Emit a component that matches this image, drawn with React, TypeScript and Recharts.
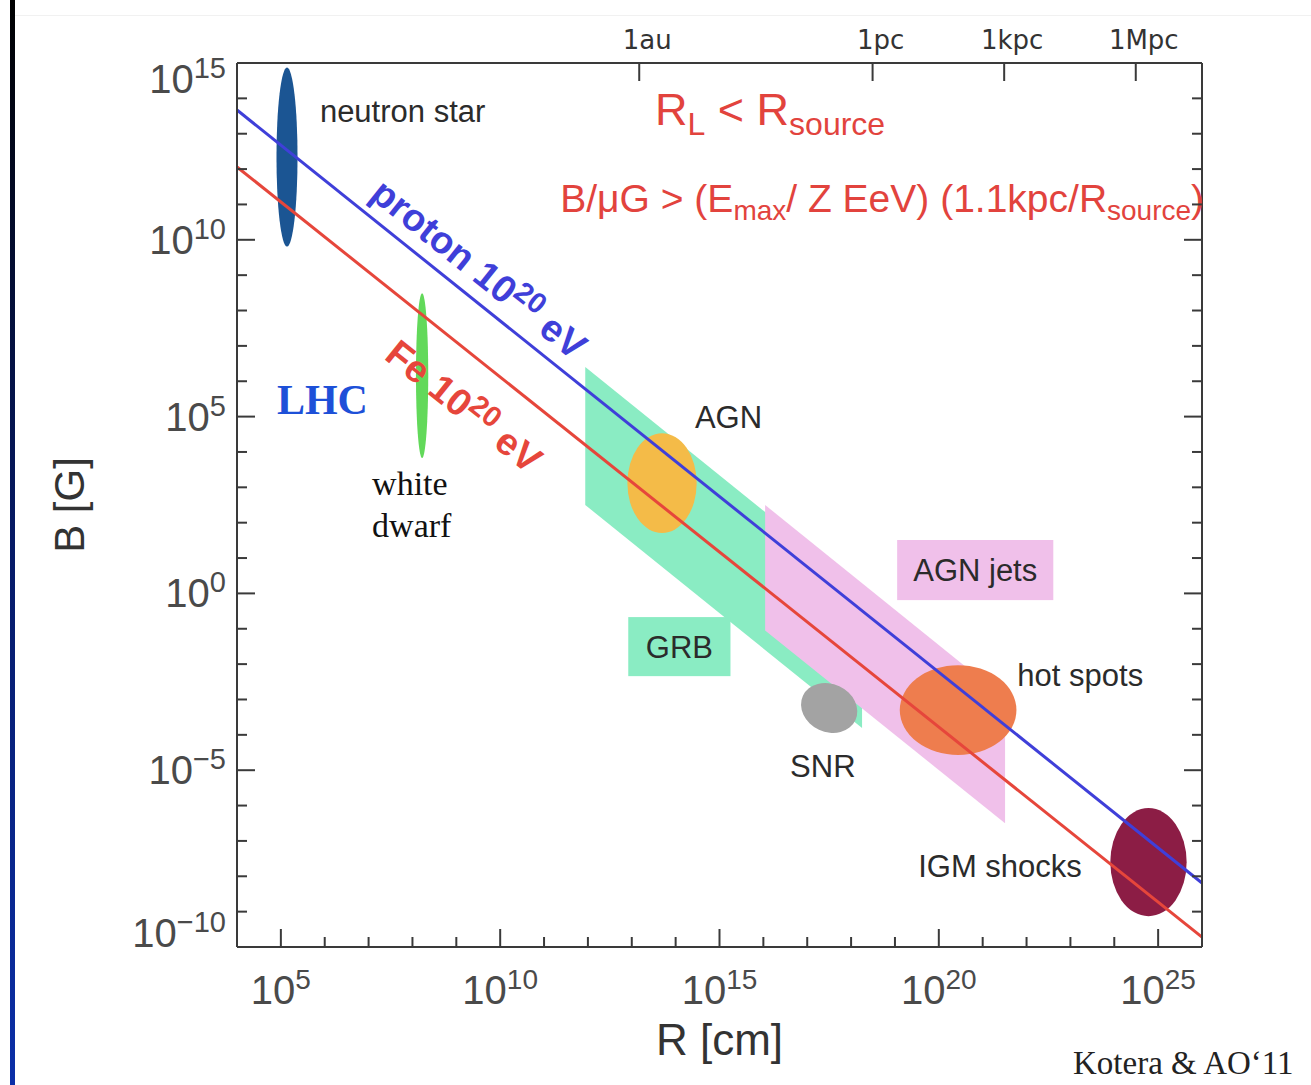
import React from 'react';
import { ComposedChart, Line, XAxis, YAxis, ReferenceArea, ReferenceDot } from 'recharts';

// all positions are log10 of R [cm] (x) and log10 of B [G] (y)
const lineR = [4, 26];
const protonB = [13.67, -8.19];
const ironB = [12.06, -9.72];

const bottomTicks = [5, 6, 7, 8, 9, 10, 11, 12, 13, 14, 15, 16, 17, 18, 19, 20, 21, 22, 23, 24, 25];
const sideTicks = [-10, -9, -8, -7, -6, -5, -4, -3, -2, -1, 0, 1, 2, 3, 4, 5, 6, 7, 8, 9, 10, 11, 12, 13, 14, 15];
const scaleR = [13.17, 18.49, 21.49, 24.49];
const scaleText = ['1au', '1pc', '1kpc', '1Mpc'];

// source regions drawn as ellipses: centre and half sizes in decades
const blobName = ['neutron star', 'white dwarf', 'AGN', 'SNR', 'hot spots', 'IGM shocks'];
const blobR = [5.14, 8.22, 13.69, 17.5, 20.44, 24.78];
const blobB = [12.34, 6.16, 3.12, -3.24, -3.3, -7.6];
const blobHalfR = [0.24, 0.14, 0.79, 0.66, 1.33, 0.87];
const blobHalfB = [2.53, 2.33, 1.41, 0.68, 1.27, 1.53];

// parallelogram bands (GRB, AGN jets): left / right edges
const bandName = ['GRB', 'AGN jets'];
const bandR0 = [11.94, 16.04];
const bandR1 = [18.25, 21.51];
const bandTopL = [6.4, 2.5];
const bandBotL = [2.5, -1.05];
const bandTopR = [0.09, -2.97];
const bandBotR = [-3.81, -6.5];

// label boxes
const boxText = ['GRB', 'AGN jets'];
const boxR0 = [12.92, 19.05];
const boxR1 = [15.25, 22.61];
const boxB0 = [-2.34, -0.19];
const boxB1 = [-0.67, 1.51];

// text notes, anchored at baseline start
const noteId = ['neutron', 'lhc', 'white', 'dwarf', 'agn', 'snr', 'hot', 'igm', 'rl', 'hillas', 'proton', 'iron'];
const noteR = [5.89, 4.91, 7.08, 7.08, 14.44, 16.61, 21.79, 19.53, 13.53, 11.37, 7.0, 7.33];
const noteB = [13.33, 5.07, 2.78, 1.59, 4.68, -5.19, -2.62, -8.02, 13.25, 10.79, 11.2, 6.65];

const SANS = '"Liberation Sans", Arial, Helvetica, sans-serif';
const SERIF = '"Liberation Serif", "Times New Roman", serif';
const INK = '#2b2b2b';
const AXIS = '#3a3a3a';
const TICKTEXT = '#4a4a4a';
const BLUE = '#3f3fd9';
const RED = '#e6463b';

const blobFill: Record<string, string> = {
  'neutron star': '#1b5593',
  'white dwarf': '#62d95a',
  AGN: '#f4bb48',
  SNR: '#a3a3a3',
  'hot spots': '#ee7d4e',
  'IGM shocks': '#8c1d45',
};
const blobTilt: Record<string, number> = { SNR: 25 };
const bandFill: Record<string, string> = { GRB: '#8aecc3', 'AGN jets': '#f0c0ea' };

const protonData = lineR.map((r, i) => ({ r, b: protonB[i] }));
const ironData = lineR.map((r, i) => ({ r, b: ironB[i] }));

const plain = (x: number, y: number, s: string) => (
  <text x={x} y={y} fontFamily={SANS} fontSize={31} fill={INK}>{s}</text>
);

const noteDraw: Record<string, (x: number, y: number) => React.ReactElement> = {
  neutron: (x, y) => plain(x, y, 'neutron star'),
  lhc: (x, y) => (
    <text x={x} y={y} fontFamily={SERIF} fontWeight="bold" fontSize={42} fill="#1d50d8">LHC</text>
  ),
  white: (x, y) => <text x={x} y={y} fontFamily={SERIF} fontSize={34} fill="#111">white</text>,
  dwarf: (x, y) => <text x={x} y={y} fontFamily={SERIF} fontSize={34} fill="#111">dwarf</text>,
  agn: (x, y) => plain(x, y, 'AGN'),
  snr: (x, y) => plain(x, y, 'SNR'),
  hot: (x, y) => plain(x, y, 'hot spots'),
  igm: (x, y) => plain(x, y, 'IGM shocks'),
  rl: (x, y) => (
    <text x={x} y={y} fontFamily={SANS} fontSize={45} fill="#e2433d">
      R<tspan fontSize={32} dy={10}>L</tspan>
      <tspan dy={-10}>{' < R'}</tspan>
      <tspan fontSize={32} dy={10}>source</tspan>
    </text>
  ),
  hillas: (x, y) => (
    <text x={x} y={y} fontFamily={SANS} fontSize={39} fill="#e2433d">
      {'B/\u03bcG > (E'}
      <tspan fontSize={28} dy={8}>max</tspan>
      <tspan dy={-8}>{'/ Z EeV) (1.1kpc/R'}</tspan>
      <tspan fontSize={28} dy={8}>source</tspan>
      <tspan dy={-8}>)</tspan>
    </text>
  ),
  proton: (x, y) => (
    <text x={x} y={y} transform={`rotate(38.7 ${x} ${y})`} fontFamily={SANS} fontWeight="bold" fontSize={38} fill={BLUE}>
      proton 10<tspan fontSize={29} dy={-13}>20</tspan>
      <tspan dy={13}> eV</tspan>
    </text>
  ),
  iron: (x, y) => (
    <text x={x} y={y} transform={`rotate(38.7 ${x} ${y})`} fontFamily={SANS} fontWeight="bold" fontSize={38} fill={RED}>
      Fe 10<tspan fontSize={29} dy={-13}>20</tspan>
      <tspan dy={13}> eV</tspan>
    </text>
  ),
};

const expLabel = (v: number) => (v < 0 ? '\u2212' + Math.abs(v) : String(v));

const LeftTick = (props: any) => {
  const { x, y, payload } = props;
  const v = payload.value;
  const major = v % 5 === 0;
  const shift = v === 15 ? 16 : v === -10 ? -14 : 0;
  return (
    <g>
      <line x1={x} x2={x + (major ? 18 : 10)} y1={y} y2={y} stroke={AXIS} strokeWidth={2} />
      {major && (
        <text x={x - 11} y={y + 14 + shift} textAnchor="end" fontFamily={SANS} fontSize={40} fill={TICKTEXT}>
          10<tspan fontSize={29} dy={-15}>{expLabel(v)}</tspan>
        </text>
      )}
    </g>
  );
};

const RightTick = (props: any) => {
  const { x, y, payload } = props;
  const major = payload.value % 5 === 0;
  return <line x1={x} x2={x - (major ? 18 : 10)} y1={y} y2={y} stroke={AXIS} strokeWidth={2} />;
};

const BottomTick = (props: any) => {
  const { x, y, payload } = props;
  const v = payload.value;
  const major = v % 5 === 0;
  return (
    <g>
      <line x1={x} x2={x} y1={y} y2={y - (major ? 18 : 10)} stroke={AXIS} strokeWidth={2} />
      {major && (
        <text x={x} y={y + 57} textAnchor="middle" fontFamily={SANS} fontSize={40} fill={TICKTEXT}>
          10<tspan fontSize={28} dy={-15}>{expLabel(v)}</tspan>
        </text>
      )}
    </g>
  );
};

const TopTick = (props: any) => {
  const { x, y, payload } = props;
  const i = scaleR.indexOf(payload.value);
  return (
    <g>
      <line x1={x} x2={x} y1={y} y2={y + 18} stroke={AXIS} strokeWidth={2} />
      <text x={x + 8} y={y - 14} textAnchor="middle" fontFamily='"DejaVu Sans", sans-serif' fontSize={26} fill="#333">
        {scaleText[i]}
      </text>
    </g>
  );
};

const ellipseShape = (name: string) => (p: any) => {
  const cx = p.x + p.width / 2;
  const cy = p.y + p.height / 2;
  const tilt = blobTilt[name];
  return (
    <ellipse
      cx={cx}
      cy={cy}
      rx={p.width / 2}
      ry={p.height / 2}
      fill={blobFill[name]}
      transform={tilt ? `rotate(${tilt} ${cx} ${cy})` : undefined}
    />
  );
};

const bandShape = (i: number) => (p: any) => {
  const hi = bandTopL[i];
  const lo = bandBotR[i];
  const py = (v: number) => p.y + ((hi - v) / (hi - lo)) * p.height;
  const pts = [
    [p.x, py(bandTopL[i])],
    [p.x + p.width, py(bandTopR[i])],
    [p.x + p.width, py(bandBotR[i])],
    [p.x, py(bandBotL[i])],
  ];
  return <polygon points={pts.map((q) => q.join(',')).join(' ')} fill={bandFill[bandName[i]]} />;
};

const boxShape = (i: number) => (p: any) => (
  <g>
    <rect x={p.x} y={p.y} width={p.width} height={p.height} fill={bandFill[boxText[i]]} />
    <text
      x={p.x + p.width / 2}
      y={p.y + p.height / 2 + 11}
      textAnchor="middle"
      fontFamily={SANS}
      fontSize={31}
      fill={INK}
    >
      {boxText[i]}
    </text>
  </g>
);

const App = () => {
  return (
    <div style={{ position: 'absolute', left: 0, top: 0, width: 1311, height: 1085, background: '#fff' }}>
      <ComposedChart width={1311} height={1085} margin={{ top: 0, right: 108, bottom: 0, left: 0 }}>
        <XAxis
          dataKey="r"
          type="number"
          domain={[4, 26]}
          allowDataOverflow
          ticks={bottomTicks}
          interval={0}
          height={138}
          tickSize={0}
          tickMargin={0}
          tick={<BottomTick />}
          axisLine={{ stroke: AXIS, strokeWidth: 2 }}
          label={{
            content: (p: any) => (
              <text
                x={p.viewBox.x + p.viewBox.width / 2}
                y={p.viewBox.y + 108}
                textAnchor="middle"
                fontFamily={SANS}
                fontSize={44}
                fill="#333"
              >
                R [cm]
              </text>
            ),
          }}
        />
        <XAxis
          xAxisId="top"
          orientation="top"
          dataKey="r"
          type="number"
          domain={[4, 26]}
          allowDataOverflow
          ticks={scaleR}
          interval={0}
          height={63}
          tickSize={0}
          tickMargin={0}
          tick={<TopTick />}
          axisLine={{ stroke: AXIS, strokeWidth: 2 }}
        />
        <YAxis
          type="number"
          domain={[-10, 15]}
          allowDataOverflow
          ticks={sideTicks}
          interval={0}
          width={237}
          tickSize={0}
          tickMargin={0}
          tick={<LeftTick />}
          axisLine={{ stroke: AXIS, strokeWidth: 2 }}
          label={{
            content: (p: any) => {
              const x = p.viewBox.x + 84;
              const y = p.viewBox.y + p.viewBox.height / 2;
              return (
                <text
                  x={x}
                  y={y}
                  transform={`rotate(-90 ${x} ${y})`}
                  textAnchor="middle"
                  fontFamily={SANS}
                  fontSize={42}
                  fill="#333"
                >
                  B [G]
                </text>
              );
            },
          }}
        />
        <YAxis
          yAxisId="right"
          orientation="right"
          type="number"
          domain={[-10, 15]}
          allowDataOverflow
          ticks={sideTicks}
          interval={0}
          width={1}
          tickSize={0}
          tickMargin={0}
          tick={<RightTick />}
          axisLine={{ stroke: AXIS, strokeWidth: 2 }}
        />

        {bandName.map((n, i) => (
          <ReferenceArea
            key={n}
            x1={bandR0[i]}
            x2={bandR1[i]}
            y1={bandBotR[i]}
            y2={bandTopL[i]}
            shape={bandShape(i)}
          />
        ))}
        {blobName.map((n, i) => (
          <ReferenceArea
            key={n}
            x1={blobR[i] - blobHalfR[i]}
            x2={blobR[i] + blobHalfR[i]}
            y1={blobB[i] - blobHalfB[i]}
            y2={blobB[i] + blobHalfB[i]}
            shape={ellipseShape(n)}
          />
        ))}
        {boxText.map((t, i) => (
          <ReferenceArea key={t} x1={boxR0[i]} x2={boxR1[i]} y1={boxB0[i]} y2={boxB1[i]} shape={boxShape(i)} />
        ))}

        <Line data={ironData} dataKey="b" type="linear" stroke={RED} strokeWidth={3} dot={false} isAnimationActive={false} />
        <Line data={protonData} dataKey="b" type="linear" stroke={BLUE} strokeWidth={3} dot={false} isAnimationActive={false} />

        {noteId.map((id, i) => (
          <ReferenceDot key={id} x={noteR[i]} y={noteB[i]} r={0} shape={(p: any) => noteDraw[id](p.cx, p.cy)} />
        ))}
      </ComposedChart>
      <div
        style={{
          position: 'absolute',
          left: 10,
          top: 0,
          width: 5,
          height: 1085,
          background: 'linear-gradient(#000 0%, #061a66 50%, #0b2fa8 100%)',
        }}
      />
      <div style={{ position: 'absolute', left: 15, top: 15, width: 1296, height: 1, background: '#f1f1f1' }} />
      <div
        style={{
          position: 'absolute',
          left: 1073,
          top: 1045,
          fontFamily: SERIF,
          fontSize: 33,
          color: '#222',
          whiteSpace: 'nowrap',
        }}
      >
        Kotera &amp; AO{'\u2018'}11
      </div>
    </div>
  );
};

export default App;
